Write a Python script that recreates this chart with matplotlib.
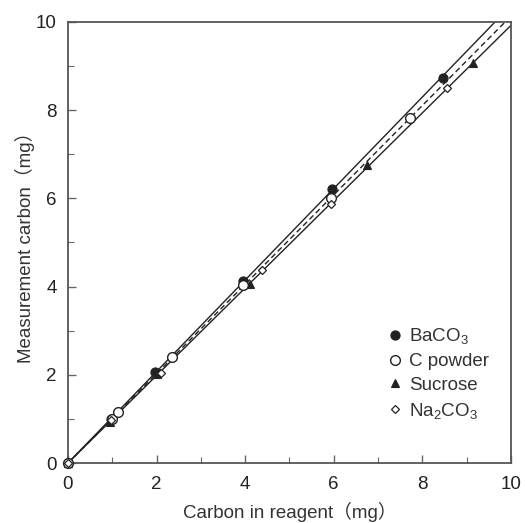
import matplotlib
matplotlib.use('Agg')
import matplotlib.pyplot as plt
import numpy as np

plt.rcParams['font.family'] = ['Liberation Sans', 'Noto Sans CJK JP']
plt.rcParams['mathtext.fontset'] = 'custom'
plt.rcParams['mathtext.rm'] = 'Liberation Sans'
plt.rcParams['mathtext.it'] = 'Liberation Sans'

# Données (mg)
baco3_x = [0.0, 0.98, 1.96, 3.95, 5.96, 8.47]
baco3_y = [0.0, 1.00, 2.06, 4.13, 6.21, 8.73]

cpowder_x = [0.0, 0.99, 1.13, 2.35, 3.95, 5.95, 7.72]
cpowder_y = [0.0, 1.00, 1.16, 2.40, 4.03, 6.02, 7.82]

sucrose_x = [0.0, 0.95, 2.02, 4.10, 6.75, 9.14]
sucrose_y = [0.0, 0.93, 2.02, 4.07, 6.76, 9.07]

na2co3_x = [0.0, 0.97, 2.10, 4.38, 5.93, 8.55]
na2co3_y = [0.0, 0.98, 2.04, 4.38, 5.88, 8.50]

# Pentes des droites de régression (passent par l'origine)
slope_upper = 1.037
slope_mean = 1.013
slope_lower = 0.992

fig = plt.figure(figsize=(5.25, 5.23), dpi=100)
ax = fig.add_axes([0.1295, 0.1147, 0.8435, 0.8433])

xl = np.array([0, 10])
ink = '#222222'
ax.plot(xl, slope_upper * xl, color=ink, lw=1.0)
ax.plot(xl, slope_lower * xl, color=ink, lw=1.0)
ax.plot(xl, slope_mean * xl, color=ink, lw=1.0, dashes=(4, 2.5))

ax.plot(baco3_x, baco3_y, 'o', ms=6.5, mfc=ink, mec=ink, mew=0.9, ls='none', label='BaCO$_3$', clip_on=False, zorder=4)
ax.plot(cpowder_x, cpowder_y, 'o', ms=7, mfc='white', mec=ink, mew=1.0, ls='none', label='C powder', clip_on=False, zorder=5)
ax.plot(sucrose_x, sucrose_y, '^', ms=5.5, mfc=ink, mec=ink, mew=0.8, ls='none', label='Sucrose', clip_on=False, zorder=3)
ax.plot(na2co3_x, na2co3_y, 'D', ms=4.4, mfc='white', mec=ink, mew=0.9, ls='none', label='Na$_2$CO$_3$', clip_on=False, zorder=6)

ax.set_xlim(0, 10)
ax.set_ylim(0, 10)
ax.set_xticks([0, 2, 4, 6, 8, 10])
ax.set_yticks([0, 2, 4, 6, 8, 10])
ax.set_xticks(np.arange(1, 10, 2), minor=True)
ax.set_yticks(np.arange(1, 10, 2), minor=True)
ax.tick_params(which='both', direction='in', colors='#666666', labelcolor=ink, labelsize=13.5)
ax.tick_params(which='major', length=6, width=1.0)
ax.tick_params(which='minor', length=4, width=0.8)
ax.tick_params(axis='x', which='major', pad=9)
ax.tick_params(axis='y', which='major', pad=8)
for s in ax.spines.values():
    s.set_color('#555555')
    s.set_linewidth(1.3)

ax.set_xlabel('Carbon in reagent（mg）', fontsize=13.5, color='#333333', labelpad=7)
ax.set_ylabel('Measurement carbon（mg）', fontsize=13.5, color='#333333', labelpad=1)

leg = ax.legend(loc='upper left', bbox_to_anchor=(0.725, 0.31), frameon=False, fontsize=13.5,
                handlelength=0.6, handletextpad=0.45, labelspacing=0.36, borderaxespad=0.0, borderpad=0.0)
for t in leg.get_texts():
    t.set_color('#333333')

fig.savefig('out.png', dpi=100)
